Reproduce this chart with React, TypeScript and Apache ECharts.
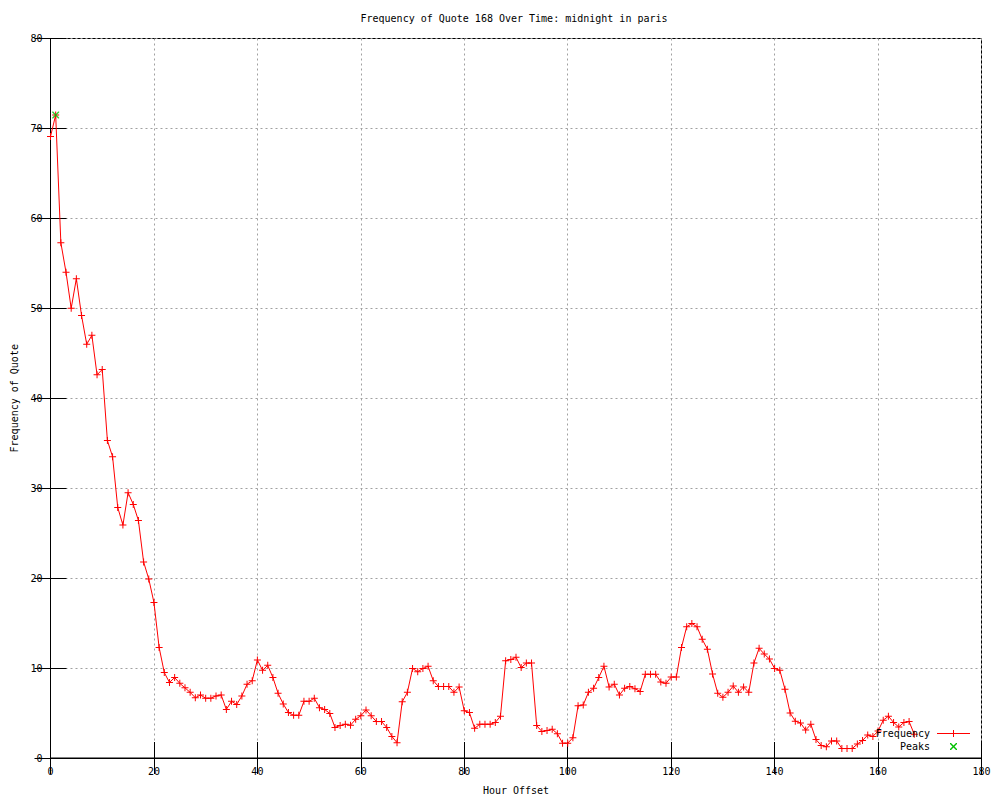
import React, { useEffect, useRef } from "react";
import * as echarts from "echarts";

const chartTitle = "Frequency of Quote 168 Over Time: midnight in paris";
const xAxisName = "Hour Offset";
const yAxisName = "Frequency of Quote";
const seriesNames = ["Frequency", "Peaks"];

// frequency value for each hour offset 0..167
const frequency = [
  69.1, 71.5, 57.3, 54.0, 50.0, 53.3, 49.2, 46.0, 47.0, 42.6,
  43.2, 35.3, 33.5, 27.85, 25.9, 29.5, 28.2, 26.4, 21.8, 19.9,
  17.3, 12.3, 9.5, 8.4, 8.95, 8.3, 7.8, 7.3, 6.7, 7.0,
  6.65, 6.65, 6.9, 7.0, 5.4, 6.3, 5.95, 6.9, 8.2, 8.6,
  10.9, 9.75, 10.3, 8.95, 7.2, 6.0, 5.05, 4.75, 4.75, 6.3,
  6.3, 6.65, 5.6, 5.4, 4.95, 3.4, 3.6, 3.75, 3.65, 4.3,
  4.7, 5.35, 4.7, 4.05, 4.05, 3.4, 2.4, 1.7, 6.25, 7.3,
  9.95, 9.6, 9.95, 10.2, 8.6, 7.95, 7.95, 7.95, 7.3, 7.9,
  5.25, 5.05, 3.3, 3.75, 3.75, 3.75, 3.95, 4.65, 10.8, 10.95,
  11.2, 10.05, 10.55, 10.55, 3.6, 2.95, 3.05, 3.2, 2.7, 1.65,
  1.65, 2.25, 5.8, 5.9, 7.3, 7.75, 8.95, 10.2, 7.9, 8.2,
  7.0, 7.75, 7.95, 7.7, 7.4, 9.3, 9.3, 9.3, 8.45, 8.3,
  9.0, 9.0, 12.3, 14.6, 14.95, 14.6, 13.2, 12.1, 9.35, 7.2,
  6.75, 7.3, 8.0, 7.3, 7.9, 7.3, 10.55, 12.2, 11.55, 11.0,
  9.95, 9.75, 7.65, 5.0, 4.1, 3.9, 3.1, 3.75, 2.05, 1.4,
  1.25, 1.9, 1.9, 1.05, 1.05, 1.05, 1.55, 1.95, 2.55, 2.4,
  3.0, 4.2, 4.65, 3.95, 3.45, 3.95, 4.05, 2.65,
];

const peakHours = [1];
const peakValues = [71.5];

const xMin = 0;
const xMax = 180;
const xStep = 20;
const yMin = 0;
const yMax = 80;
const yStep = 10;

const FONT = '"DejaVu Sans Mono", monospace';
const RED = "#ff0000";
const GREEN = "#00c000";
const GRID_GRAY = "#a0a0a0";

const plusSymbol = "path://M0,3h7v1h-7z M3,0h1v7h-1z";
const crossSymbol =
  "path://M0,0L1,0L7,6L7,7L6,7L0,1Z M6,0L7,0L7,1L1,7L0,7L0,6Z";

export default function App() {
  const ref = useRef<HTMLDivElement>(null);

  useEffect(() => {
    if (!ref.current) return;
    const chart = echarts.init(ref.current, undefined, { renderer: "svg" });

    const freqData = frequency.map((v, i) => [i, v]);
    const peakData = peakHours.map((h, i) => [h, peakValues[i]]);

    const axisCommon = {
      type: "value" as const,
      axisLine: { show: true, lineStyle: { color: "#000", width: 1 } },
      axisTick: { show: true, inside: true, length: 16, lineStyle: { color: "#000", width: 1 } },
    };

    // legend marks (drawn as filled shapes)
    const lx = 953;
    const ly1 = 733;
    const ly2 = 746;
    const xPts = (cx: number, cy: number) => [
      [cx - 3.5, cy - 3.5], [cx - 2.5, cy - 3.5], [cx, cy - 1], [cx + 2.5, cy - 3.5],
      [cx + 3.5, cy - 3.5], [cx + 3.5, cy - 2.5], [cx + 1, cy], [cx + 3.5, cy + 2.5],
      [cx + 3.5, cy + 3.5], [cx + 2.5, cy + 3.5], [cx, cy + 1], [cx - 2.5, cy + 3.5],
      [cx - 3.5, cy + 3.5], [cx - 3.5, cy + 2.5], [cx - 1, cy], [cx - 3.5, cy - 2.5],
    ];

    chart.setOption({
      animation: false,
      backgroundColor: "#ffffff",
      grid: {
        left: 50.5,
        right: 18.5,
        top: 38.5,
        bottom: 39.5,
        show: true,
        borderColor: "#000",
        borderWidth: 1,
        backgroundColor: "transparent",
      },
      xAxis: [
        {
          ...axisCommon,
          position: "bottom",
          min: xMin,
          max: xMax,
          interval: xStep,
          z: 1,
          axisLabel: { color: "#000", fontFamily: FONT, fontSize: 10, margin: 8 },
          splitLine: { show: true, lineStyle: { color: GRID_GRAY, type: [2, 3], width: 1 } },
          name: xAxisName,
          nameLocation: "middle",
          nameGap: 27,
          nameTextStyle: { color: "#000", fontFamily: FONT, fontSize: 10 },
        },
        {
          ...axisCommon,
          position: "top",
          min: xMin,
          max: xMax,
          interval: xStep,
          z: 5,
          axisLabel: { show: false },
          splitLine: { show: false },
        },
      ],
      yAxis: [
        {
          ...axisCommon,
          position: "left",
          min: yMin,
          max: yMax,
          interval: yStep,
          z: 1,
          axisLabel: { color: "#000", fontFamily: FONT, fontSize: 10, margin: 8 },
          splitLine: { show: true, lineStyle: { color: GRID_GRAY, type: [2, 3], width: 1 } },
          name: yAxisName,
          nameLocation: "middle",
          nameGap: 31,
          nameTextStyle: { color: "#000", fontFamily: FONT, fontSize: 10 },
        },
        {
          ...axisCommon,
          position: "right",
          min: yMin,
          max: yMax,
          interval: yStep,
          z: 5,
          axisLabel: { show: false },
          splitLine: { show: false },
        },
      ],
      series: [
        {
          name: seriesNames[0],
          type: "line",
          xAxisIndex: 0,
          yAxisIndex: 0,
          data: freqData,
          showSymbol: true,
          symbol: plusSymbol,
          symbolSize: 7,
          lineStyle: { color: RED, width: 1 },
          itemStyle: { color: RED },
          emphasis: { disabled: true },
          z: 6,
        },
        {
          name: seriesNames[1],
          type: "scatter",
          xAxisIndex: 0,
          yAxisIndex: 0,
          data: peakData,
          symbol: crossSymbol,
          symbolSize: 7,
          itemStyle: { color: GREEN },
          emphasis: { disabled: true },
          z: 7,
        },
      ],
      graphic: [
        {
          type: "text",
          x: 514,
          y: 18,
          style: {
            text: chartTitle,
            fill: "#000",
            font: `10px ${FONT}`,
            textAlign: "center",
            textVerticalAlign: "middle",
          },
        },
        {
          type: "text",
          x: 930,
          y: ly1,
          z: 100,
          style: {
            text: seriesNames[0],
            fill: "#000",
            font: `10px ${FONT}`,
            textAlign: "right",
            textVerticalAlign: "middle",
          },
        },
        {
          type: "rect",
          z: 100,
          shape: { x: 937, y: ly1, width: 33, height: 1 },
          style: { fill: RED },
        },
        {
          type: "rect",
          z: 100,
          shape: { x: lx, y: ly1 - 3, width: 1, height: 7 },
          style: { fill: RED },
        },
        {
          type: "text",
          x: 930,
          y: ly2,
          z: 100,
          style: {
            text: seriesNames[1],
            fill: "#000",
            font: `10px ${FONT}`,
            textAlign: "right",
            textVerticalAlign: "middle",
          },
        },
        {
          type: "polygon",
          z: 100,
          shape: { points: xPts(lx + 0.5, ly2 + 0.5) },
          style: { fill: GREEN },
        },
      ],
    });

    return () => {
      chart.dispose();
    };
  }, []);

  return (
    <div
      ref={ref}
      style={{ position: "fixed", left: 0, top: 0, width: 1000, height: 800, background: "#fff" }}
    />
  );
}
